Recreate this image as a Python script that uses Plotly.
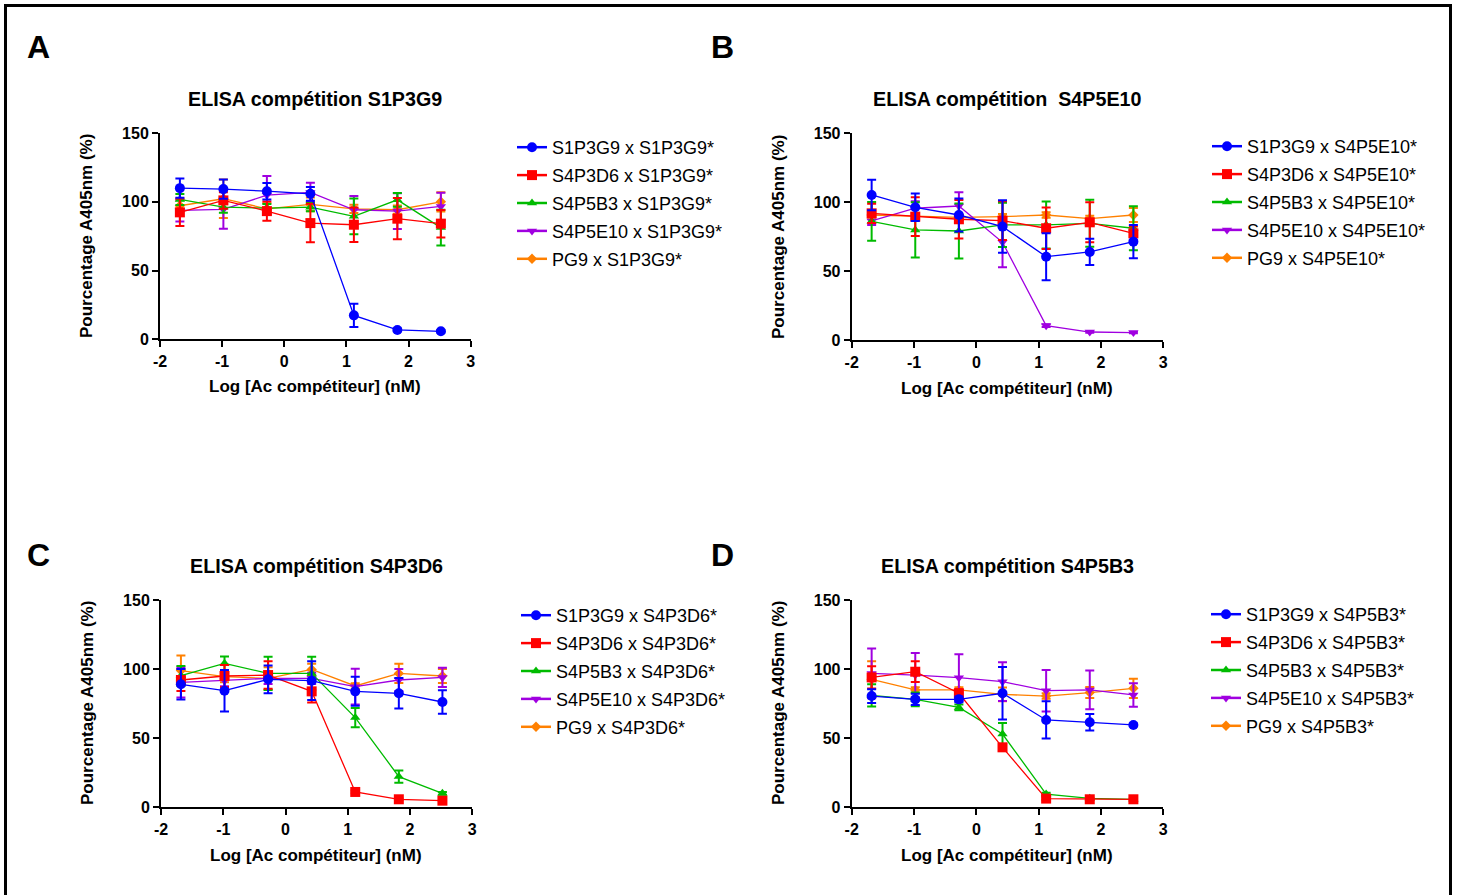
import plotly.graph_objects as go

W, H = 1459, 895
FONT = "Arial, Liberation Sans, sans-serif"

# ---------------- data ----------------
log_conc = [-1.68, -0.98, -0.28, 0.42, 1.12, 1.82, 2.52]
x_ticks = [-2, -1, 0, 1, 2, 3]
y_ticks = [0, 50, 100, 150]

competitors = ["S1P3G9", "S4P3D6", "S4P5B3", "S4P5E10", "PG9"]
panel_targets = ["S1P3G9*", "S4P5E10*", "S4P3D6*", "S4P5B3*"]
panel_titles = ["ELISA compétition S1P3G9", "ELISA compétition  S4P5E10",
                "ELISA compétition S4P3D6", "ELISA compétition S4P5B3"]
panel_letters = ["A", "B", "C", "D"]

# Panel A: competition on S1P3G9*
blue_A = [109.9, 109.2, 107.7, 105.8, 17.4, 6.8, 5.8]
blue_A_err = [7, 7, 6, 5, 8.5, 1, 0.8]
red_A = [92.3, 101, 93.2, 84.5, 83.3, 87.7, 84.1]
red_A_err = [10, 6, 7, 14, 12.5, 15, 10]
green_A = [101.7, 96.1, 95.4, 96.1, 89.4, 101.4, 81.2]
green_A_err = [4, 4, 3, 3, 13, 5, 13]
purple_A = [93.7, 94.4, 104.8, 106.8, 94.2, 93.2, 96.6]
purple_A_err = [8, 14, 14, 7, 10, 13, 10]
orange_A = [97.1, 102.2, 94.9, 98.1, 94.9, 94.2, 100]
orange_A_err = [4, 14, 4, 5, 3, 3, 7]

# Panel B: competition on S4P5E10*
blue_B = [105.3, 96.4, 90.8, 82.4, 60.6, 64, 71.5]
blue_B_err = [11, 10, 12, 19, 17, 9.5, 12]
red_B = [92, 89.6, 87.7, 86.7, 81.2, 85.5, 77.5]
red_B_err = [7, 14, 14, 14, 15, 14.5, 5]
green_B = [86.2, 80, 79.2, 83.6, 83.6, 84.8, 81.2]
green_B_err = [14, 20, 20, 16, 17, 17, 16]
purple_B = [86.5, 95.7, 97.3, 71, 10.6, 6, 5.6]
purple_B_err = [3, 5, 10, 18, 1, 0.5, 0.5]
orange_B = [90.8, 90.1, 89.1, 89.6, 90.8, 88.2, 90.8]
orange_B_err = [2, 2, 2, 2, 2, 2, 5]

# Panel C: competition on S4P3D6*
blue_C = [89, 84.4, 92.6, 91.6, 83.9, 82.5, 76.2]
blue_C_err = [11, 15, 10, 14, 10.5, 11, 8.5]
red_C = [92.1, 95, 95.7, 83.9, 11.1, 5.8, 4.8]
red_C_err = [8, 8, 10, 8, 1, 0.5, 0.5]
green_C = [95.2, 104.2, 96.9, 96.9, 64.9, 22.2, 10.1]
green_C_err = [7, 5, 12, 12, 7, 4.5, 1]
purple_C = [90.4, 91.6, 93.3, 93.3, 87.3, 92.1, 94]
purple_C_err = [11, 4, 4, 4, 13, 8, 7]
orange_C = [98.9, 94.5, 93.3, 99.8, 87.8, 96.9, 95]
orange_C_err = [11, 4, 8, 4, 2, 7, 5]

# Panel D: competition on S4P5B3*
blue_D = [80.5, 78.1, 78.1, 82.5, 63.2, 61.5, 59.6]
blue_D_err = [5, 4, 2, 19, 13.5, 6, 1]
red_D = [94, 98.1, 82.5, 43.4, 6.3, 5.8, 5.8]
red_D_err = [8, 7.5, 3, 2, 1, 0.5, 0.5]
green_D = [81, 78.1, 72.3, 53, 9.6, 6.5, 5.8]
green_D_err = [8, 5, 2, 8, 1, 0.5, 0.5]
purple_D = [96.9, 95.7, 93.8, 90.9, 84.4, 84.9, 81.3]
purple_D_err = [18, 16, 17, 14, 15, 14, 8.5]
orange_D = [92.6, 84.9, 84.9, 81.7, 80.5, 83, 86.1]
orange_D_err = [13, 2, 2, 5, 2, 4, 7]

panels_values = [
    [(blue_A, blue_A_err), (red_A, red_A_err), (green_A, green_A_err), (purple_A, purple_A_err), (orange_A, orange_A_err)],
    [(blue_B, blue_B_err), (red_B, red_B_err), (green_B, green_B_err), (purple_B, purple_B_err), (orange_B, orange_B_err)],
    [(blue_C, blue_C_err), (red_C, red_C_err), (green_C, green_C_err), (purple_C, purple_C_err), (orange_C, orange_C_err)],
    [(blue_D, blue_D_err), (red_D, red_D_err), (green_D, green_D_err), (purple_D, purple_D_err), (orange_D, orange_D_err)],
]

# ---------------- styles ----------------
colors = ["#0000FF", "#FF0000", "#00BB00", "#A000E0", "#FF8000"]
symbols = ["circle", "square", "triangle-up", "triangle-down", "diamond"]
msizes = [10, 10, 9, 9, 8]

# plot areas in pixels: (x0, x1, ytop, ybottom)
areas = [(160, 470.7, 133, 339.3), (851.7, 1163.3, 133.3, 340.3),
         (161, 472.3, 600, 807.3), (851.7, 1163.3, 600, 807.3)]
legend_pos = [(512, 129), (1207, 128), (516, 597), (1206, 596)]
title_pos = [(315, 99), (1007, 99), (316, 566), (1007, 566)]
letter_pos = [(38, 47), (722, 47), (38, 555), (722, 555)]
ytitle_pos = [(87, 236), (778, 237), (87, 703), (778, 703)]
xtitle_pos = [(315, 386), (1007, 388), (316, 855), (1007, 855)]


def px(x):
    return x / W


def py(y):
    return 1 - y / H


fig = go.Figure()
annotations = []
legend_names = ["legend", "legend2", "legend3", "legend4"]

for p in range(4):
    xa = "x" if p == 0 else f"x{p + 1}"
    ya = "y" if p == 0 else f"y{p + 1}"
    # draw back-to-front: orange first, blue last (blue on top)
    for k in reversed(range(5)):
        vals, errs = panels_values[p][k]
        fig.add_trace(go.Scatter(
            x=log_conc, y=vals,
            error_y=dict(type="data", array=errs, visible=True,
                         color=colors[k], thickness=2, width=4.5),
            mode="lines+markers",
            line=dict(color=colors[k], width=1.3),
            marker=dict(symbol=symbols[k], size=msizes[k], color=colors[k],
                        line=dict(width=0)),
            name=f"{competitors[k]} x {panel_targets[p]}",
            showlegend=False,
            xaxis=xa, yaxis=ya, cliponaxis=False,
        ))
    # legend entries (thicker symbol line, as in the original legend)
    for k in range(5):
        fig.add_trace(go.Scatter(
            x=[None], y=[None], mode="lines+markers",
            line=dict(color=colors[k], width=2.5),
            marker=dict(symbol=symbols[k], size=msizes[k], color=colors[k],
                        line=dict(width=0)),
            name=f"{competitors[k]} x {panel_targets[p]}",
            legend=legend_names[p], legendgroup=f"p{p}k{k}", legendrank=k + 1,
            xaxis=xa, yaxis=ya,
        ))

    x0, x1, yt, yb = areas[p]
    axis_common = dict(showline=True, linewidth=2, linecolor="black",
                       ticks="outside", ticklen=6, tickwidth=2, tickcolor="black",
                       showgrid=False, zeroline=False, fixedrange=True, automargin=False,
                       tickfont=dict(family=FONT, size=16, color="black", weight="bold"))
    fig.update_layout(**{
        ("xaxis" if p == 0 else f"xaxis{p + 1}"): dict(
            domain=[px(x0), px(x1)], anchor=ya, range=[-2, 3],
            tickmode="array", tickvals=x_ticks, ticktext=[str(v) for v in x_ticks],
            **axis_common),
        ("yaxis" if p == 0 else f"yaxis{p + 1}"): dict(
            domain=[py(yb), py(yt)], anchor=xa, range=[0, 150],
            tickmode="array", tickvals=y_ticks, ticktext=[str(v) for v in y_ticks],
            **axis_common),
    })

    lx, ly = legend_pos[p]
    fig.update_layout(**{legend_names[p]: dict(
        x=px(lx), y=py(ly), xanchor="left", yanchor="top",
        font=dict(family=FONT, size=18, color="black"),
        bgcolor="rgba(0,0,0,0)", tracegroupgap=1.5,
        itemclick=False, itemdoubleclick=False,
    )})

    tx, ty = title_pos[p]
    annotations.append(dict(x=px(tx), y=py(ty), xref="paper", yref="paper",
                            text=f"<b>{panel_titles[p]}</b>", showarrow=False,
                            xanchor="center", yanchor="middle",
                            font=dict(family=FONT, size=19.7, color="black")))
    lx2, ly2 = letter_pos[p]
    annotations.append(dict(x=px(lx2), y=py(ly2), xref="paper", yref="paper",
                            text=f"<b>{panel_letters[p]}</b>", showarrow=False,
                            xanchor="center", yanchor="middle",
                            font=dict(family=FONT, size=32, color="black")))
    yx, yy = ytitle_pos[p]
    annotations.append(dict(x=px(yx), y=py(yy), xref="paper", yref="paper",
                            text="<b>Pourcentage A405nm (%)</b>", showarrow=False,
                            textangle=-90, xanchor="center", yanchor="middle",
                            font=dict(family=FONT, size=17, color="black")))
    xx, xy = xtitle_pos[p]
    annotations.append(dict(x=px(xx), y=py(xy), xref="paper", yref="paper",
                            text="<b>Log [Ac compétiteur] (nM)</b>", showarrow=False,
                            xanchor="center", yanchor="middle",
                            font=dict(family=FONT, size=17, color="black")))

fig.update_layout(
    width=W, height=H,
    margin=dict(l=0, r=0, t=0, b=0, pad=0),
    paper_bgcolor="white", plot_bgcolor="white",
    annotations=annotations,
    shapes=[dict(type="rect", xref="paper", yref="paper",
                 x0=px(5.5), x1=px(1450.5), y0=py(905), y1=py(5.5),
                 line=dict(color="black", width=3), fillcolor="rgba(0,0,0,0)",
                 layer="above")],
    font=dict(family=FONT, color="black"),
)

fig.write_html(
    "out.html",
    config={"displayModeBar": False},
    post_script="document.body.style.margin='0';document.body.style.padding='0';"
                "document.body.style.overflow='hidden';",
)
